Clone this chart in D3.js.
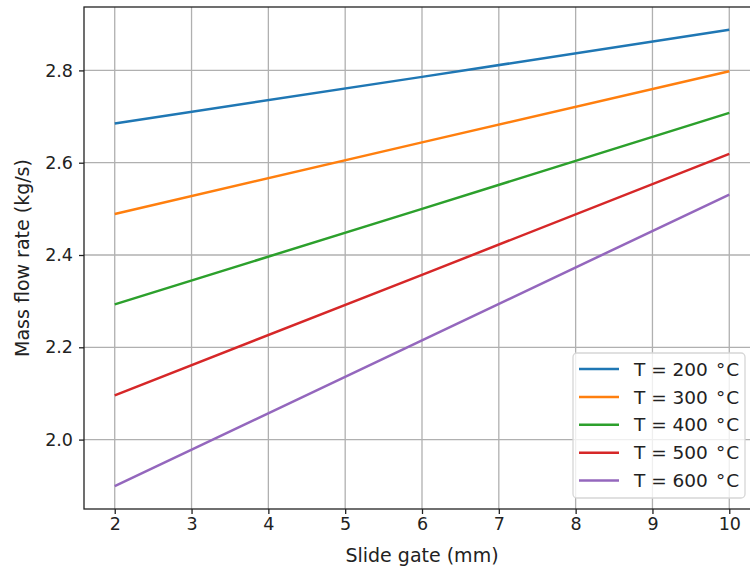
<!DOCTYPE html>
<html>
<head>
<meta charset="utf-8">
<script src="https://cdn.jsdelivr.net/npm/d3@7"></script>
<style>
    body { margin: 0; background: #fff; }
    svg { display: block; font-family: "DejaVu Sans", sans-serif; }
</style>
</head>
<body>
<div id="chart"></div>
<script>
// Slide gate opening (mm) where values were read
const slideGate = [2, 6, 10];

// Mass flow rate (kg/s), one list per temperature
const temperatures = [200, 300, 400, 500, 600];
const flow200 = [2.685, 2.786, 2.888];
const flow300 = [2.489, 2.644, 2.798];
const flow400 = [2.293, 2.500, 2.708];
const flow500 = [2.096, 2.357, 2.619];
const flow600 = [1.899, 2.215, 2.531];

const xTicks = [2, 3, 4, 5, 6, 7, 8, 9, 10];
const yTicks = [2.0, 2.2, 2.4, 2.6, 2.8];
const colors = ['#1f77b4', '#ff7f0e', '#2ca02c', '#d62728', '#9467bd'];

const series = [flow200, flow300, flow400, flow500, flow600].map((vals, i) => ({
    label: 'T = ' + temperatures[i],
    color: colors[i],
    points: slideGate.map((x, j) => ({ x: x, y: vals[j] }))
}));

const width = 750, height = 569;
const margin = { top: 7, right: -10, bottom: 60, left: 84 };

const svg = d3.select('#chart').append('svg')
    .attr('width', width)
    .attr('height', height);

const x = d3.scaleLinear()
    .domain([1.6, 10.4])
    .range([margin.left, width - margin.right]);

const y = d3.scaleLinear()
    .domain([1.8496, 2.9374])
    .range([height - margin.bottom, margin.top]);

const plotTop = margin.top, plotBottom = height - margin.bottom;
const plotLeft = margin.left, plotRight = width - margin.right;

// grid
svg.append('g')
    .selectAll('line')
    .data(xTicks)
    .join('line')
    .attr('x1', d => x(d)).attr('x2', d => x(d))
    .attr('y1', plotTop).attr('y2', plotBottom)
    .attr('stroke', '#b0b0b0').attr('stroke-width', 1.3);

svg.append('g')
    .selectAll('line')
    .data(yTicks)
    .join('line')
    .attr('x1', plotLeft).attr('x2', plotRight)
    .attr('y1', d => y(d)).attr('y2', d => y(d))
    .attr('stroke', '#b0b0b0').attr('stroke-width', 1.3);

// lines
const line = d3.line()
    .x(d => x(d.x))
    .y(d => y(d.y));

svg.append('g')
    .selectAll('path')
    .data(series)
    .join('path')
    .attr('fill', 'none')
    .attr('stroke', d => d.color)
    .attr('stroke-width', 2.5)
    .attr('d', d => line(d.points));

// spines
svg.append('rect')
    .attr('x', plotLeft).attr('y', plotTop)
    .attr('width', plotRight - plotLeft).attr('height', plotBottom - plotTop)
    .attr('fill', 'none').attr('stroke', '#222').attr('stroke-width', 1.3);

// axes
const xAxis = svg.append('g')
    .attr('transform', `translate(0,${plotBottom})`)
    .call(d3.axisBottom(x).tickValues(xTicks).tickFormat(d3.format('d')).tickSize(5).tickPadding(4));

const yAxis = svg.append('g')
    .attr('transform', `translate(${plotLeft},0)`)
    .call(d3.axisLeft(y).tickValues(yTicks).tickFormat(d3.format('.1f')).tickSize(5).tickPadding(6));

[xAxis, yAxis].forEach(ax => {
    ax.select('.domain').remove();
    ax.selectAll('.tick line').attr('stroke', '#222').attr('stroke-width', 1.3);
    ax.selectAll('.tick text')
        .attr('fill', '#222')
        .style('font-size', '17.5px')
        .style('font-family', '"DejaVu Sans", sans-serif');
});

// axis labels
svg.append('text')
    .attr('x', (plotLeft + plotRight) / 2)
    .attr('y', 562)
    .attr('text-anchor', 'middle')
    .attr('fill', '#222')
    .style('font-size', '19px')
    .text('Slide gate (mm)');

svg.append('text')
    .attr('transform', `translate(29,${(plotTop + plotBottom) / 2}) rotate(-90)`)
    .attr('text-anchor', 'middle')
    .attr('fill', '#222')
    .style('font-size', '19px')
    .text('Mass flow rate (kg/s)');

// legend
const legend = svg.append('g').attr('transform', 'translate(573,353)');

legend.append('rect')
    .attr('width', 172).attr('height', 145)
    .attr('rx', 4)
    .attr('fill', 'rgba(255,255,255,0.8)')
    .attr('stroke', '#d6d6d6').attr('stroke-width', 1.3);

const items = legend.selectAll('g')
    .data(series)
    .join('g')
    .attr('transform', (d, i) => `translate(0,${16 + i * 27.9})`);

items.append('line')
    .attr('x1', 6).attr('x2', 46)
    .attr('stroke', d => d.color)
    .attr('stroke-width', 2.5);

const labels = items.append('text')
    .attr('x', 61)
    .attr('dy', '0.36em')
    .attr('fill', '#222')
    .style('font-size', '18.5px');

labels.append('tspan').text(d => d.label);
labels.append('tspan').attr('dx', 8).text('\u00B0');
labels.append('tspan').attr('dx', 1).text('C');
</script>
</body>
</html>
